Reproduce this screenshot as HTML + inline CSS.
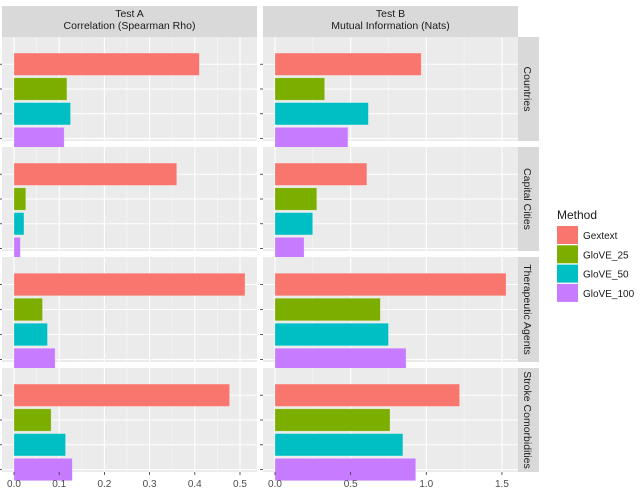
<!DOCTYPE html>
<html><head><meta charset="utf-8"><style>
html,body{margin:0;padding:0;background:#fff;}
svg{display:block;font-family:"Liberation Sans",Arial,sans-serif;}
</style></head><body>
<svg id="chart" width="640" height="491" viewBox="0 0 640 491"></svg>
<script>
const methods = ["Gextext","GloVE_25","GloVE_50","GloVE_100"];
const colors = ["#F8766D","#7CAE00","#00BFC4","#C77CFF"];
const rowsLabels = ["Countries","Capital Cities","Therapeutic Agents","Stroke Comorbidities"];
const testATitle = ["Test A","Correlation (Spearman Rho)"];
const testBTitle = ["Test B","Mutual Information (Nats)"];
const valuesA_countries = [0.41,0.117,0.125,0.111];
const valuesA_capitals = [0.36,0.026,0.022,0.014];
const valuesA_therapeutic = [0.511,0.063,0.074,0.091];
const valuesA_stroke = [0.477,0.082,0.114,0.129];
const valuesB_countries = [0.966,0.328,0.617,0.482];
const valuesB_capitals = [0.607,0.276,0.249,0.192];
const valuesB_therapeutic = [1.527,0.696,0.75,0.866];
const valuesB_stroke = [1.22,0.76,0.845,0.93];
const ticksA = [0,0.1,0.2,0.3,0.4,0.5];
const tickLabelsA = ["0.0","0.1","0.2","0.3","0.4","0.5"];
const ticksB = [0,0.5,1.0,1.5];
const tickLabelsB = ["0.0","0.5","1.0","1.5"];

const NS="http://www.w3.org/2000/svg";
const svg=document.getElementById('chart');
function mk(tag,attrs,parent){const e=document.createElementNS(NS,tag);for(const k in attrs)e.setAttribute(k,attrs[k]);(parent||svg).appendChild(e);return e;}
const xA=v=>14+v*452;
const xB=v=>275+v*151.3;
const panelsX=[[2,257,xA,0.525,ticksA,tickLabelsA],[263,518,xB,1.6,ticksB,tickLabelsB]];
const rowsY=[[37,141],[147,251],[257,362],[368,472]];
const dataA=[valuesA_countries,valuesA_capitals,valuesA_therapeutic,valuesA_stroke];
const dataB=[valuesB_countries,valuesB_capitals,valuesB_therapeutic,valuesB_stroke];

// strips top
[testATitle,testBTitle].forEach((t,i)=>{
  const [x0,x1]=panelsX[i];
  const r=mk('rect',{x:x0,y:6,width:x1-x0,height:31,fill:'#D9D9D9'});
  
  
  t.forEach((s,j)=>{const tx=mk('text',{x:(x0+x1)/2,y:17+j*12,'text-anchor':'middle','font-size':'10.5',fill:'#1A1A1A'});tx.textContent=s;
    
    });
});

rowsY.forEach((ry,ri)=>{
  const [y0,y1]=ry;
  const band=(y1-y0)/4.2;
  // right strip
  const rs=mk('rect',{x:518,y:y0,width:21,height:y1-y0,fill:'#D9D9D9'});
  
  
  const cy=(y0+y1)/2;
  const rt=mk('text',{x:524,y:cy,'text-anchor':'middle','font-size':'10.5',fill:'#1A1A1A',transform:`rotate(90 524 ${cy})`});
  rt.textContent=rowsLabels[ri];
  
  
  panelsX.forEach((p,pi)=>{
    const [x0,x1,sx,maxv,ticks]=p;
    const bg=mk('rect',{x:x0,y:y0,width:x1-x0,height:y1-y0,fill:'#EBEBEB'});
    
    
    // minor gridlines
    for(let k=0;k<ticks.length;k++){
      const step=ticks[1]-ticks[0];
      [ticks[k]-step/2,ticks[k]+step/2].forEach(m=>{const xx=sx(m);if(xx>x0&&xx<x1)mk('line',{x1:xx,x2:xx,y1:y0,y2:y1,stroke:'#F5F5F5','stroke-width':0.6});});
      const xx=sx(ticks[k]);
      mk('line',{x1:xx,x2:xx,y1:y0,y2:y1,stroke:'#FFFFFF','stroke-width':1.1});
    }
    methods.forEach((m,mi)=>{
      const yc=y0+band*(0.6+mi+0.5);
      mk('line',{x1:x0,x2:x1,y1:yc,y2:yc,stroke:'#FFFFFF','stroke-width':1.1});
      mk('line',{x1:x0-3,x2:x0,y1:yc,y2:yc,stroke:'#333','stroke-width':0.8});
    });
    const vals=(pi?dataB:dataA)[ri];
    vals.forEach((v,mi)=>{
      const yc=y0+band*(0.6+mi+0.5);
      const h=band*0.9;
      const b=mk('rect',{x:sx(0),y:yc-h/2,width:sx(v)-sx(0),height:h,fill:colors[mi],stroke:'rgba(255,255,255,0.35)','stroke-width':0.6});
      
      
    });
  });
});
// x axes
panelsX.forEach((p,pi)=>{
  const [x0,x1,sx,maxv,ticks,labels]=p;
  ticks.forEach((t,k)=>{
    const xx=sx(t);
    mk('line',{x1:xx,x2:xx,y1:472,y2:475,stroke:'#333','stroke-width':0.8});
    const tx=mk('text',{x:xx,y:487,'text-anchor':'middle','font-size':'10',fill:'#4D4D4D'});
    tx.textContent=labels[k];
    
    
  });
});
// legend
const lt=mk('text',{x:557,y:219,'font-size':'12',fill:'#1A1A1A'});
lt.textContent='Method';


methods.forEach((m,i)=>{
  const y=226+i*19.3;
  const k=mk('rect',{x:557,y:y,width:21,height:18,fill:colors[i]});
  
  
  const t=mk('text',{x:583,y:y+13,'font-size':'10',fill:'#1A1A1A'});
  t.textContent=m;
  
  
});
</script>
</body></html>
